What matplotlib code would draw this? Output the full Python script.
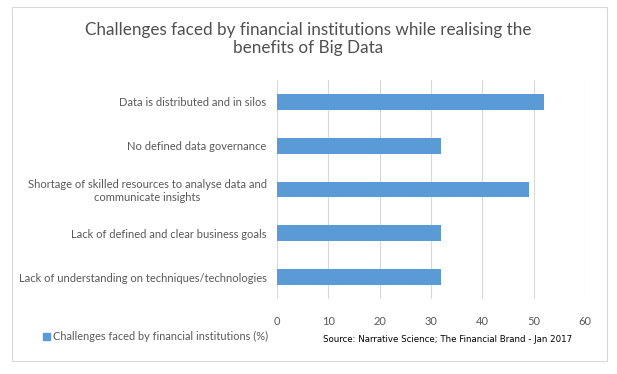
import matplotlib.pyplot as plt
from matplotlib.patches import Rectangle

plt.rcParams['font.family'] = ['Lato', 'DejaVu Sans']

categories = [
    "Data is distributed and in silos",
    "No defined data governance",
    "Shortage of skilled resources to analyse data and\ncommunicate insights",
    "Lack of defined and clear business goals",
    "Lack of understanding on techniques/technologies",
]
values = [52, 32, 49, 32, 32]
x_ticks = [0, 10, 20, 30, 40, 50, 60]

bar_color = "#5B9BD5"
text_color = "#595959"

fig = plt.figure(figsize=(6.17, 3.74), dpi=100)
ax = fig.add_axes([277 / 617, 1 - 299 / 374, 308 / 617, 219 / 374])

ypos = list(range(len(categories)))
ax.barh(ypos, values, height=0.36, color=bar_color, zorder=3)
ax.set_ylim(len(categories) - 0.5, -0.5)
ax.set_xlim(0, 60)
ax.set_xticks(x_ticks)
ax.set_yticks(ypos)
ax.set_yticklabels(categories, multialignment='center')
ax.tick_params(axis='y', length=0, pad=7.5, labelsize=8, labelcolor=text_color)
ax.tick_params(axis='x', length=0, pad=12, labelsize=8, labelcolor=text_color)
ax.grid(axis='x', color="#D9D9D9", linewidth=0.8, zorder=0)
for s in ax.spines.values():
    s.set_visible(False)

# title
fig.text(0.5, 1 - 39 / 374, "Challenges faced by financial institutions while realising the\nbenefits of Big Data",
         ha='center', va='center', fontsize=12.3, color="#505050", linespacing=1.2)

# legend
fig.patches.append(Rectangle((43 / 617, 1 - 340 / 374), 7 / 617, 7 / 374,
                             transform=fig.transFigure, color=bar_color))
fig.text(53 / 617, 1 - 336 / 374, "Challenges faced by financial institutions (%)",
         ha='left', va='center', fontsize=7.9, color=text_color)

# source
fig.text(323 / 617, 1 - 339 / 374, "Source: Narrative Science; The Financial Brand - Jan 2017",
         ha='left', va='center', fontsize=6.25, color="black", family=['DejaVu Sans'])

# chart border
fig.patches.append(Rectangle((12 / 617, 1 - 361 / 374), 595 / 617, 354 / 374,
                             transform=fig.transFigure, fill=False,
                             edgecolor="#D9D9D9", linewidth=0.8))

fig.savefig("out.png", dpi=100)
plt.close(fig)
